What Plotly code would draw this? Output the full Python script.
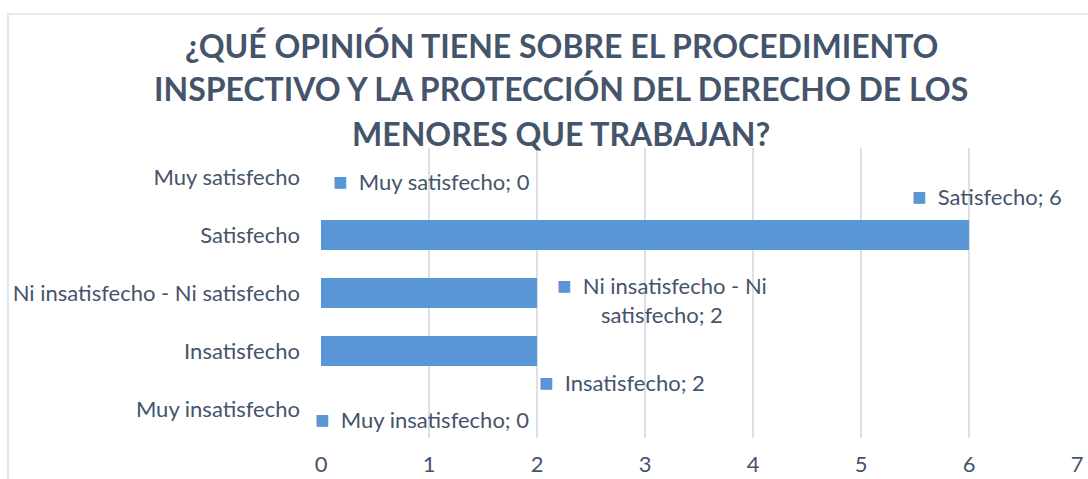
import plotly.graph_objects as go

categories = ["Muy satisfecho", "Satisfecho", "Ni insatisfecho - Ni satisfecho",
              "Insatisfecho", "Muy insatisfecho"]
values = [0, 6, 2, 2, 0]
label_texts = ["Muy satisfecho; 0", "Satisfecho; 6", "Ni insatisfecho - Ni<br>satisfecho; 2",
               "Insatisfecho; 2", "Muy insatisfecho; 0"]
x_ticks = [0, 1, 2, 3, 4, 5, 6, 7]
title_lines = ["¿QUÉ OPINIÓN TIENE SOBRE EL PROCEDIMIENTO",
               "INSPECTIVO Y LA PROTECCIÓN DEL DERECHO DE LOS",
               "MENORES QUE TRABAJAN?"]

# label offsets (pixels) relative to bar end
label_shift_x = [10, -59, 18, 0, -8]
label_shift_y = [-3, 40, -6, -30, -9]

TEXT = "#44546A"
BAR = "#5896D5"
FONT = "Lato"

W, H = 1088, 479
ML, MR, MT, MB = 321, 11, 148, 41
PW, PH = W - ML - MR, H - MT - MB

fig = go.Figure()
fig.add_trace(go.Bar(
    x=values, y=categories, orientation="h",
    marker=dict(color=BAR, line=dict(width=0)),
    width=0.52, hoverinfo="skip",
))

for cat, val, txt, sx, sy in zip(categories, values, label_texts, label_shift_x, label_shift_y):
    fig.add_annotation(
        x=val, y=cat, xref="x", yref="y",
        text=f'<span style="color:{BAR};font-size:24px">■</span>&nbsp;&nbsp;' + txt,
        showarrow=False, xanchor="left", yanchor="middle", align="center",
        xshift=sx, yshift=sy,
        font=dict(family=FONT, size=22, color=TEXT),
    )

# title, one annotation per line (centre y in figure pixels)
title_centre_px = [45, 88, 133]
for line, cy in zip(title_lines, title_centre_px):
    fig.add_annotation(
        x=(561 - ML) / PW, y=1 + (MT - cy) / PH, xref="paper", yref="paper",
        text=f"<b>{line}</b>", showarrow=False, xanchor="center", yanchor="middle",
        font=dict(family=FONT, size=32, color=TEXT),
    )

# chart border
fig.add_shape(type="rect", xref="paper", yref="paper",
              x0=-313 / PW, x1=1.3, y0=-0.5, y1=1 + 134 / PH,
              line=dict(color="#DDE1E7", width=1.5), fillcolor="rgba(0,0,0,0)", layer="below")

fig.update_layout(
    width=W, height=H,
    margin=dict(l=ML, r=MR, t=MT, b=MB, autoexpand=False),
    paper_bgcolor="white", plot_bgcolor="white",
    showlegend=False,
    font=dict(family=FONT, size=22, color=TEXT),
    xaxis=dict(range=[0, 7], tickvals=x_ticks, showgrid=True, gridcolor="#DDE1E7", gridwidth=1.5,
               zeroline=False, showline=False, ticklabelstandoff=11, automargin=False,
               tickfont=dict(family=FONT, size=22, color=TEXT), fixedrange=True),
    yaxis=dict(categoryorder="array", categoryarray=categories, autorange="reversed",
               showgrid=False, zeroline=False, showline=False, ticklabelstandoff=20,
               automargin=False,
               tickfont=dict(family=FONT, size=22, color=TEXT)),
)

fig.write_html(
    "out.html",
    config={"displayModeBar": False},
    post_script="document.body.style.margin='0';document.body.style.overflow='hidden';",
)
